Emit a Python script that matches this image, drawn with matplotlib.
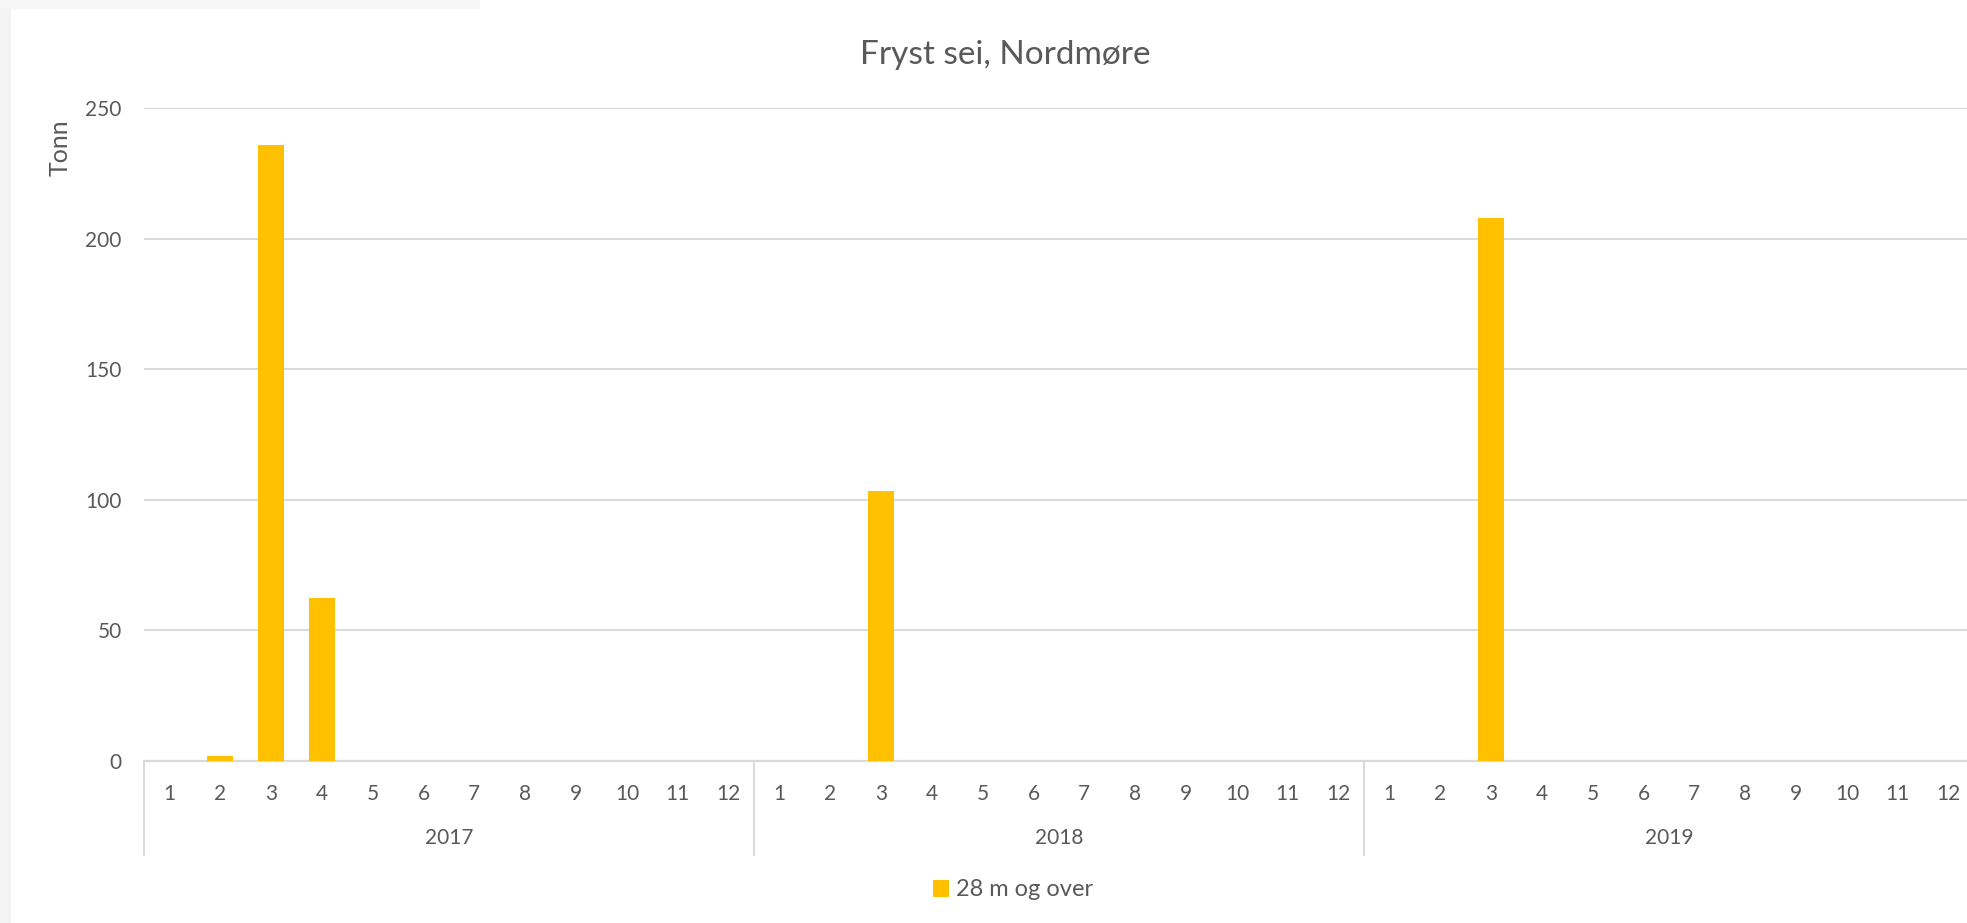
import matplotlib.pyplot as plt
import matplotlib.transforms as mtransforms
from matplotlib.patches import Patch, Rectangle
import numpy as np

plt.rcParams.update({
    'font.family': ['Lato', 'DejaVu Sans'],
    'text.color': '#595959',
    'axes.labelcolor': '#595959',
    'xtick.color': '#595959',
    'ytick.color': '#595959',
})

# data
years = ['2017', '2018', '2019']
months = [str(m) for m in range(1, 13)]
tonn_2017 = [0, 2, 236, 62.5, 0, 0, 0, 0, 0, 0, 0, 0]
tonn_2018 = [0, 0, 103.5, 0, 0, 0, 0, 0, 0, 0, 0, 0]
tonn_2019 = [0, 0, 208, 0, 0, 0, 0, 0, 0, 0, 0, 0]
yticks = [0, 50, 100, 150, 200, 250]

W, H = 1967, 923
fig = plt.figure(figsize=(W / 100, H / 100), dpi=100, facecolor='white')

# light gray frame bits at the edge of the screenshot
fig.patches.append(Rectangle((0, 0), 11 / W, 1, transform=fig.transFigure,
                             facecolor='#f3f3f3', edgecolor='none', zorder=0))
fig.patches.append(Rectangle((0, 1 - 9 / H), 480 / W, 9 / H, transform=fig.transFigure,
                             facecolor='#f6f6f6', edgecolor='none', zorder=0))

# plot area in pixel terms: x 144..1974, y 108..761
ax = fig.add_axes([144 / W, (H - 761) / H, (1974 - 144) / W, (761 - 108) / H])
ax.set_facecolor('none')

values = np.array(tonn_2017 + tonn_2018 + tonn_2019)
x = np.arange(len(values))
ax.bar(x, values, width=0.51, color='#FFC000', zorder=3)

ax.set_xlim(-0.5, len(values) - 0.5)
ax.set_ylim(0, 250)
ax.set_yticks(yticks)
ax.tick_params(axis='y', length=0, pad=16, labelsize=15)
ax.set_xticks([])
for s in ax.spines.values():
    s.set_visible(False)
ax.grid(axis='y', color='#d9d9d9', linewidth=1.4, zorder=0)
ax.axhline(0, color='#d9d9d9', linewidth=1.6, zorder=2, clip_on=False)

# two-level category axis
trans = mtransforms.blended_transform_factory(ax.transData, ax.transAxes)
for i in range(len(values)):
    ax.text(x[i], -33 / 653, months[i % 12], transform=trans,
            ha='center', va='center', fontsize=15)
for k, yr in enumerate(years):
    ax.text(k * 12 + 5.5, -77 / 653, yr, transform=trans,
            ha='center', va='center', fontsize=15)
for b in [-0.5, 11.5, 23.5, 35.5]:
    ax.plot([b, b], [0, -94 / 653], transform=trans, color='#d9d9d9',
            linewidth=1.4, clip_on=False)

fig.text(1005 / W, 1 - 55 / H, 'Fryst sei, Nordmøre', ha='center', va='center',
         fontsize=24)
fig.text(60 / W, 1 - 148 / H, 'Tonn', ha='center', va='center',
         rotation=90, fontsize=18)

fig.legend(handles=[Patch(facecolor='#FFC000', label='28 m og over')],
           loc='center', bbox_to_anchor=(1013 / W, 1 - 890 / H),
           frameon=False, fontsize=17, handlelength=0.7, handleheight=0.7,
           handletextpad=0.3)

fig.savefig('out.png', dpi=100, facecolor=fig.get_facecolor())
